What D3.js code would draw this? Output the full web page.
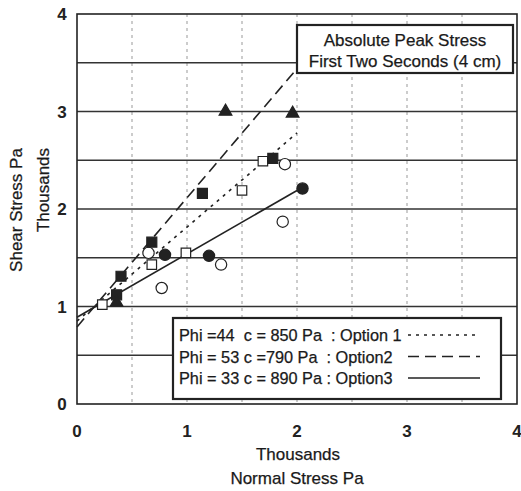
<!DOCTYPE html>
<html>
<head>
<meta charset="utf-8">
<script src="https://cdn.jsdelivr.net/npm/d3@7"></script>
<style>
  body { margin: 0; background: #fff; }
  svg { display: block; font-family: Arial, "Liberation Sans", sans-serif; }
  .hgrid line { stroke: #333; stroke-width: 1.4; }
  .vgrid line { stroke: #999; stroke-width: 1; stroke-dasharray: 3,4; }
  .tick-lbl { font-size: 17px; font-weight: bold; fill: #222; }
  .ttl { font-size: 17px; fill: #1a1a1a; stroke: #1a1a1a; stroke-width: 0.25; }
  .lg-txt { font-size: 16.3px; fill: #1a1a1a; stroke: #1a1a1a; stroke-width: 0.25; }
</style>
</head>
<body>
<svg width="521" height="491"></svg>
<script>
// values (thousands of Pa)
var xTicks = [0, 1, 2, 3, 4];
var yTicks = [0, 1, 2, 3, 4];
var gridSteps = [0.5, 1, 1.5, 2, 2.5, 3, 3.5];

var filledSquares = [[0.36, 1.12], [0.40, 1.31], [0.68, 1.66], [1.14, 2.16], [1.78, 2.52]];
var openSquares = [[0.23, 1.02], [0.68, 1.43], [0.99, 1.55], [1.50, 2.19], [1.69, 2.49]];
var filledCircles = [[0.80, 1.53], [1.20, 1.52], [2.05, 2.21]];
var openCircles = [[0.65, 1.55], [0.77, 1.19], [1.31, 1.43], [1.87, 1.87], [1.89, 2.46]];
var filledTriangles = [[0.36, 1.04], [1.35, 3.0], [1.96, 2.98]];

var option1 = [[0, 0.85], [2, 2.78]];
var option2 = [[0, 0.79], [2, 3.44]];
var option3 = [[0, 0.89], [2, 2.19]];

var legendLabels = ['Phi =44  c = 850 Pa  : Option 1',
                    'Phi = 53 c =790 Pa  : Option2',
                    'Phi = 33 c = 890 Pa : Option3'];
var titleLines = ['Absolute Peak Stress', 'First Two Seconds (4 cm)'];

var svg = d3.select('svg');

var xScale = d3.scaleLinear().domain([0, 4]).range([77, 517]),
    yScale = d3.scaleLinear().domain([0, 4]).range([404, 14]);

// grid
svg.append('g').attr('class', 'vgrid')
  .selectAll('line')
  .data(gridSteps)
  .enter()
  .append('line')
  .attr('x1', function(d){ return xScale(d); })
  .attr('x2', function(d){ return xScale(d); })
  .attr('y1', yScale(4))
  .attr('y2', yScale(0));

svg.append('g').attr('class', 'hgrid')
  .selectAll('line')
  .data(gridSteps)
  .enter()
  .append('line')
  .attr('x1', xScale(0))
  .attr('x2', xScale(4))
  .attr('y1', function(d){ return yScale(d); })
  .attr('y2', function(d){ return yScale(d); });

// frame
svg.append('rect')
  .attr('x', xScale(0)).attr('y', yScale(4))
  .attr('width', xScale(4) - xScale(0))
  .attr('height', yScale(0) - yScale(4))
  .attr('fill', 'none').attr('stroke', '#222').attr('stroke-width', 1.6);

// tick labels
svg.selectAll('text.xt')
  .data(xTicks)
  .enter()
  .append('text')
  .attr('class', 'tick-lbl xt')
  .attr('x', function(d){ return xScale(d); })
  .attr('y', 437)
  .attr('text-anchor', 'middle')
  .text(function(d){ return d; });

svg.selectAll('text.yt')
  .data(yTicks)
  .enter()
  .append('text')
  .attr('class', 'tick-lbl yt')
  .attr('x', 62)
  .attr('y', function(d){ return yScale(d) + 6; })
  .attr('text-anchor', 'middle')
  .text(function(d){ return d; });

// axis titles
svg.append('text').attr('class', 'ttl')
  .attr('x', 298).attr('y', 460).attr('text-anchor', 'middle')
  .text('Thousands');
svg.append('text').attr('class', 'ttl')
  .attr('x', 297).attr('y', 484).attr('text-anchor', 'middle')
  .text('Normal Stress Pa');
svg.append('text').attr('class', 'ttl')
  .attr('transform', 'translate(22,210) rotate(-90)')
  .attr('text-anchor', 'middle')
  .text('Shear Stress Pa');
svg.append('text').attr('class', 'ttl')
  .attr('transform', 'translate(49,190) rotate(-90)')
  .attr('text-anchor', 'middle')
  .text('Thousands');

// fit lines
var line = d3.line()
  .x(function(d){ return xScale(d[0]); })
  .y(function(d){ return yScale(d[1]); });

var lines = [
  {pts: option1, dash: '3,5'},
  {pts: option2, dash: '11,6'},
  {pts: option3, dash: null}
];

svg.selectAll('path.fit')
  .data(lines)
  .enter()
  .append('path')
  .attr('class', 'fit')
  .attr('d', function(d){ return line(d.pts); })
  .attr('fill', 'none')
  .attr('stroke', '#222')
  .attr('stroke-width', 1.6)
  .attr('stroke-dasharray', function(d){ return d.dash; });

// markers
var sym = function(type, size){ return d3.symbol().type(type).size(size)(); };
var markerSets = [
  {data: openSquares, type: d3.symbolSquare, size: 90, fill: '#fff'},
  {data: openCircles, type: d3.symbolCircle, size: 100, fill: '#fff'},
  {data: filledSquares, type: d3.symbolSquare, size: 100, fill: '#222'},
  {data: filledCircles, type: d3.symbolCircle, size: 100, fill: '#222'},
  {data: filledTriangles, type: d3.symbolTriangle, size: 70, fill: '#222'}
];

markerSets.forEach(function(set){
  svg.append('g')
    .selectAll('path')
    .data(set.data)
    .enter()
    .append('path')
    .attr('d', sym(set.type, set.size))
    .attr('transform', function(d){ return 'translate(' + xScale(d[0]) + ',' + yScale(d[1]) + ')'; })
    .attr('fill', set.fill)
    .attr('stroke', '#222')
    .attr('stroke-width', 1.2);
});

// title box
var tb = svg.append('g');
tb.append('rect')
  .attr('x', 297).attr('y', 25).attr('width', 216).attr('height', 48)
  .attr('fill', '#fff').attr('stroke', '#222').attr('stroke-width', 2.2);
tb.selectAll('text')
  .data(titleLines)
  .enter()
  .append('text')
  .attr('class', 'ttl')
  .attr('x', 405)
  .attr('y', function(d, i){ return 46 + i * 21; })
  .attr('text-anchor', 'middle')
  .text(function(d){ return d; });

// legend
var lg = svg.append('g');
lg.append('rect')
  .attr('x', 173).attr('y', 318).attr('width', 328).attr('height', 81)
  .attr('fill', '#fff').attr('stroke', '#222').attr('stroke-width', 2.2);

lg.selectAll('text')
  .data(legendLabels)
  .enter()
  .append('text')
  .attr('class', 'lg-txt')
  .attr('x', 179)
  .attr('y', function(d, i){ return 341 + i * 21.5; })
  .attr('xml:space', 'preserve')
  .style('white-space', 'pre')
  .text(function(d){ return d; });

lg.selectAll('line')
  .data(lines)
  .enter()
  .append('line')
  .attr('x1', 408).attr('x2', 480)
  .attr('y1', function(d, i){ return 335 + i * 21.5; })
  .attr('y2', function(d, i){ return 335 + i * 21.5; })
  .attr('stroke', '#222')
  .attr('stroke-width', 1.6)
  .attr('stroke-dasharray', function(d){ return d.dash; });
</script>
</body>
</html>
